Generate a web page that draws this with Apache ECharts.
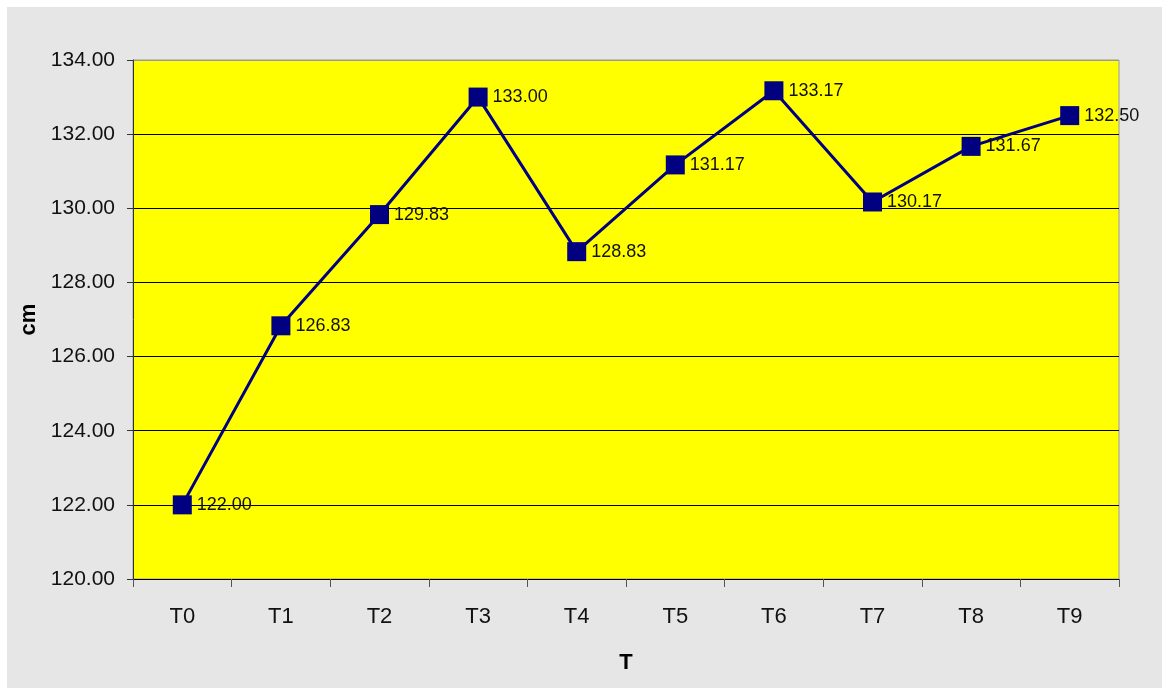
<!DOCTYPE html>
<html>
<head>
<meta charset="utf-8">
<style>
  html, body { margin: 0; padding: 0; background: #ffffff; }
  #chart { width: 1162px; height: 688px; }
</style>
<script src="https://cdn.jsdelivr.net/npm/echarts@6/dist/echarts.min.js"></script>
</head>
<body>
<div id="chart"></div>
<script>
// Measurement periods and mean height per period (cm)
const categories = ['T0', 'T1', 'T2', 'T3', 'T4', 'T5', 'T6', 'T7', 'T8', 'T9'];
const heights = [122.00, 126.83, 129.83, 133.00, 128.83, 131.17, 133.17, 130.17, 131.67, 132.50];

// Value axis range
const yMin = 120;
const yMax = 134;
const yStep = 2;

const chart = echarts.init(document.getElementById('chart'), null, { renderer: 'canvas' });

const fontFamily = 'Arial, "Liberation Sans", sans-serif';

chart.setOption({
  backgroundColor: '#ffffff',
  animation: false,
  graphic: [{
    type: 'rect',
    z: -10,
    silent: true,
    shape: { x: 7, y: 7, width: 1155, height: 681 },
    style: { fill: '#e6e6e6' }
  }],
  grid: {
    left: 133,
    top: 60,
    right: 43,
    bottom: 109,
    show: true,
    backgroundColor: '#ffff00',
    borderColor: '#999999',
    borderWidth: 1
  },
  xAxis: {
    type: 'category',
    data: categories,
    boundaryGap: true,
    name: 'T',
    nameLocation: 'middle',
    nameGap: 73,
    nameTextStyle: { fontFamily, fontSize: 22, fontWeight: 'bold', color: '#000' },
    axisLine: { show: true, lineStyle: { color: '#000', width: 1 } },
    axisTick: { show: true, alignWithLabel: false, length: 8, lineStyle: { color: '#555' } },
    axisLabel: { fontFamily, fontSize: 22, color: '#111', margin: 27 },
    splitLine: { show: false }
  },
  yAxis: {
    type: 'value',
    min: yMin,
    max: yMax,
    interval: yStep,
    name: 'cm',
    nameLocation: 'middle',
    nameGap: 92,
    nameRotate: 90,
    nameTextStyle: { fontFamily, fontSize: 22, fontWeight: 'bold', color: '#000' },
    axisLine: { show: true, lineStyle: { color: '#333', width: 1 } },
    axisTick: { show: true, inside: false, length: 6, lineStyle: { color: '#333' } },
    axisLabel: {
      fontFamily, fontSize: 21, color: '#111', margin: 18,
      formatter: v => v.toFixed(2)
    },
    splitLine: {
      show: true,
      lineStyle: {
        color: ['#000', '#000', '#000', '#000', '#000', '#000', '#000', '#999'],
        width: 1
      }
    }
  },
  series: [{
    type: 'line',
    data: heights,
    symbol: 'rect',
    symbolSize: 19,
    lineStyle: { color: '#000080', width: 3 },
    itemStyle: { color: '#000080' },
    label: {
      show: true,
      position: 'right',
      distance: 5,
      fontFamily,
      fontSize: 18,
      color: '#111',
      formatter: p => p.value.toFixed(2)
    },
    z: 5
  }]
});
</script>
</body>
</html>
